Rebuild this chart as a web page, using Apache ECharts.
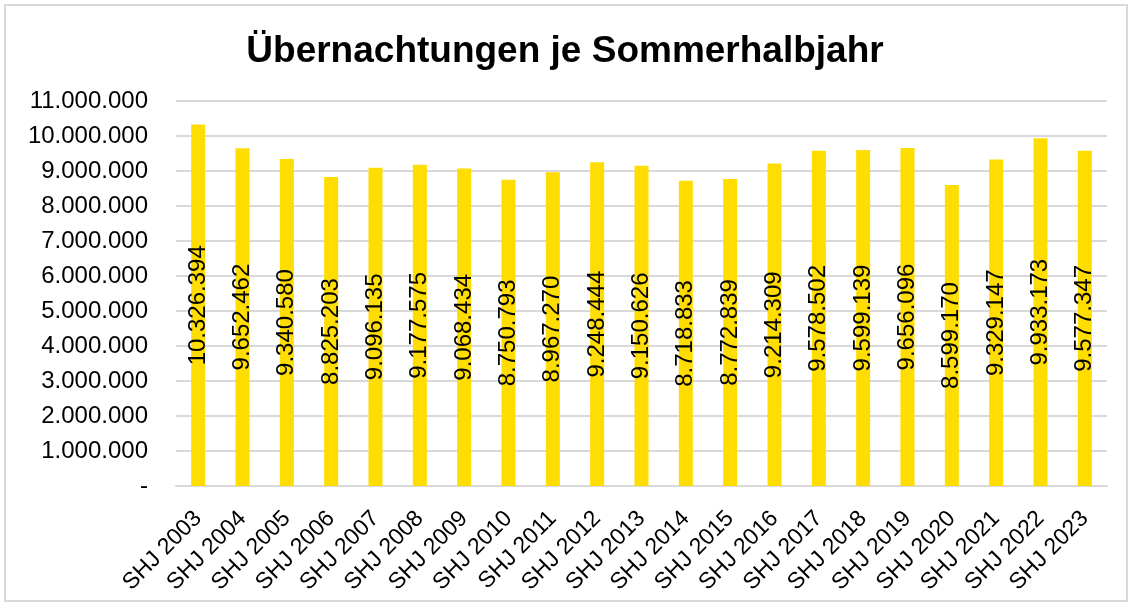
<!DOCTYPE html>
<html>
<head>
<meta charset="utf-8">
<script src="https://cdn.jsdelivr.net/npm/echarts@6/dist/echarts.min.js"></script>
<style>
  html, body { margin: 0; padding: 0; background: #fff; }
  #frame { position: absolute; left: 4px; top: 4px; width: 1120px; height: 594px; border: 2px solid #d9d9d9; }
  #main { position: absolute; left: 0; top: 0; width: 1130px; height: 608px; }
</style>
</head>
<body>
<div id="frame"></div>
<div id="main"></div>
<script>
var categories = ['SHJ 2003', 'SHJ 2004', 'SHJ 2005', 'SHJ 2006', 'SHJ 2007', 'SHJ 2008', 'SHJ 2009',
    'SHJ 2010', 'SHJ 2011', 'SHJ 2012', 'SHJ 2013', 'SHJ 2014', 'SHJ 2015', 'SHJ 2016', 'SHJ 2017',
    'SHJ 2018', 'SHJ 2019', 'SHJ 2020', 'SHJ 2021', 'SHJ 2022', 'SHJ 2023'];
var overnights = [10326394, 9652462, 9340580, 8825203, 9096135, 9177575, 9068434,
    8750793, 8967270, 9248444, 9150626, 8718833, 8772839, 9214309, 9578502,
    9599139, 9656096, 8599170, 9329147, 9933173, 9577347];

// German thousands separator
function fmt(v) {
    return String(Math.round(v)).replace(/\B(?=(\d{3})+(?!\d))/g, '.');
}

var myChart = echarts.init(document.getElementById('main'));
var option = {
    animation: false,
    textStyle: { fontFamily: 'Liberation Sans, Arial, sans-serif' },
    title: {
        text: 'Übernachtungen je Sommerhalbjahr',
        left: 'center',
        top: 28,
        textStyle: { fontSize: 37, fontWeight: 'bold', color: '#000' }
    },
    grid: { left: 176, right: 23, top: 101, bottom: 122 },
    xAxis: {
        type: 'category',
        data: categories,
        axisLine: { lineStyle: { color: '#d9d9d9', width: 2 } },
        axisTick: { show: false },
        axisLabel: { rotate: 45, fontSize: 23, color: '#000', margin: 29, interval: 0 }
    },
    yAxis: {
        type: 'value',
        min: 0,
        max: 11000000,
        interval: 1000000,
        splitLine: { lineStyle: { color: '#d9d9d9', width: 2 } },
        axisLine: { show: false },
        axisTick: { show: false },
        axisLabel: {
            fontSize: 24,
            color: '#000',
            margin: 28,
            formatter: function (v) { return v === 0 ? '-' : fmt(v); }
        }
    },
    series: [{
        name: 'Übernachtungen',
        type: 'bar',
        data: overnights,
        barWidth: 14,
        itemStyle: { color: '#FFDD00' },
        label: {
            show: true,
            position: 'inside',
            rotate: 90,
            fontSize: 24,
            color: '#000',
            formatter: function (p) { return fmt(p.value); }
        }
    }]
};
myChart.setOption(option);
</script>
</body>
</html>
